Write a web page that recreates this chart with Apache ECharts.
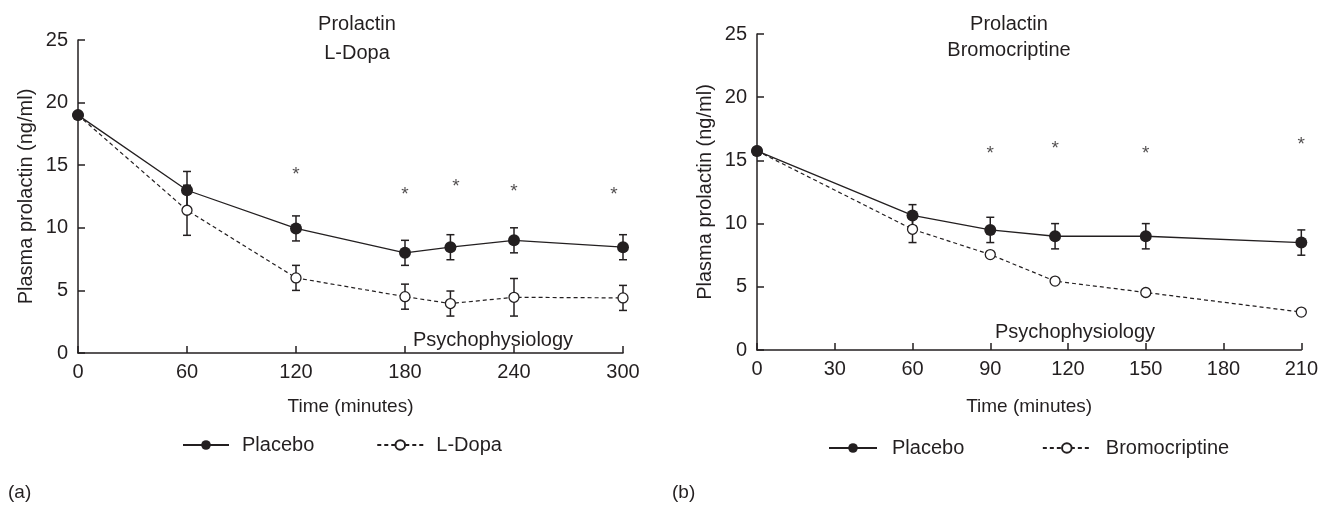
<!DOCTYPE html>
<html>
<head>
<meta charset="utf-8">
<script src="https://cdn.jsdelivr.net/npm/echarts@6/dist/echarts.min.js"></script>
<style>
html,body{margin:0;padding:0;background:#fff;}
#chart{width:1321px;height:506px;}
</style>
</head>
<body>
<div id="chart"></div>
<script>
// ---- Panel (a): L-Dopa ----
const ldopaTime = [0, 60, 120, 180, 205, 240, 300];
const ldopaPlacebo = [19.0, 13.0, 9.95, 8.0, 8.45, 9.0, 8.45];
const ldopaPlaceboErr = [0, 1.5, 1.0, 1.0, 1.0, 1.0, 1.0];
const ldopaDrug = [19.0, 11.4, 6.0, 4.5, 3.95, 4.45, 4.4];
const ldopaDrugErr = [0, 2.0, 1.0, 1.0, 1.0, 1.5, 1.0];
const ldopaStarTime = [120, 180, 208, 240, 295];
const ldopaStarY = [14.6, 13.0, 13.7, 13.3, 13.0];
const ldopaXTicks = [0, 60, 120, 180, 240, 300];

// ---- Panel (b): Bromocriptine ----
const bromoTime = [0, 60, 90, 115, 150, 210];
const bromoPlacebo = [15.75, 10.65, 9.5, 9.0, 9.0, 8.5];
const bromoPlaceboErr = [0, 0.85, 1.0, 1.0, 1.0, 1.0];
const bromoDrug = [15.75, 9.55, 7.55, 5.45, 4.55, 3.0];
const bromoDrugErr = [0, 1.05, 0, 0, 0, 0];
const bromoStarTime = [90, 115, 150, 210];
const bromoStarY = [15.9, 16.3, 15.9, 16.6];
const bromoXTicks = [0, 30, 60, 90, 120, 150, 180, 210];

const yTicks = [0, 5, 10, 15, 20, 25];

const FONT = '"Liberation Sans", Arial, sans-serif';
const INK = '#231f20';

function pairs(xs, ys) { return xs.map((x, i) => [x, ys[i]]); }
function errs(xs, ys, es) {
  const out = [];
  xs.forEach((x, i) => { if (es[i] > 0) out.push([x, ys[i] - es[i], ys[i] + es[i]]); });
  return out;
}

function errorSeries(idx, data) {
  return {
    type: 'custom', xAxisIndex: idx, yAxisIndex: idx, z: 1, silent: true,
    data: data,
    renderItem: function (params, api) {
      const x = api.value(0);
      const lo = api.coord([x, api.value(1)]);
      const hi = api.coord([x, api.value(2)]);
      const w = 4;
      const st = { stroke: INK, lineWidth: 1.5 };
      return {
        type: 'group', children: [
          { type: 'line', shape: { x1: lo[0], y1: lo[1], x2: hi[0], y2: hi[1] }, style: st },
          { type: 'line', shape: { x1: lo[0] - w, y1: lo[1], x2: lo[0] + w, y2: lo[1] }, style: st },
          { type: 'line', shape: { x1: hi[0] - w, y1: hi[1], x2: hi[0] + w, y2: hi[1] }, style: st }
        ]
      };
    }
  };
}

function starSeries(idx, xs, ys) {
  return {
    type: 'scatter', xAxisIndex: idx, yAxisIndex: idx, symbolSize: 0, silent: true,
    data: pairs(xs, ys),
    label: { show: true, position: 'inside', formatter: '*', fontSize: 19, color: INK, fontFamily: FONT, offset: [0, 5] }
  };
}

function lineSeries(idx, name, xs, ys, filled) {
  return {
    type: 'line', name: name, xAxisIndex: idx, yAxisIndex: idx,
    data: pairs(xs, ys), z: filled ? 4 : 3,
    symbol: 'circle', symbolSize: filled ? 12 : 10,
    itemStyle: filled ? { color: INK, borderWidth: 0 } : { color: '#fff', borderColor: INK, borderWidth: 1.3 },
    lineStyle: filled ? { color: INK, width: 1.3, type: 'solid' } : { color: INK, width: 1.2, type: [4, 3] },
    emphasis: { disabled: true }, animation: false
  };
}

function xAxis(idx, max, interval) {
  return {
    type: 'value', gridIndex: idx, min: 0, max: max, interval: interval,
    name: 'Time (minutes)', nameLocation: 'middle', nameGap: idx === 0 ? 44 : 47,
    nameTextStyle: { fontSize: 19, color: INK, fontFamily: FONT },
    axisLine: { show: true, lineStyle: { color: INK, width: 1.5 } },
    axisTick: { show: true, inside: true, length: 7, lineStyle: { color: INK, width: 1.5 } },
    axisLabel: { fontSize: 20, color: INK, fontFamily: FONT, margin: 9 },
    splitLine: { show: false }
  };
}
function yAxis(idx) {
  return {
    type: 'value', gridIndex: idx, min: 0, max: 25, interval: 5,
    name: 'Plasma prolactin (ng/ml)', nameLocation: 'middle', nameGap: 42,
    nameTextStyle: { fontSize: 20, color: INK, fontFamily: FONT },
    axisLine: { show: true, lineStyle: { color: INK, width: 1.5 } },
    axisTick: { show: true, inside: true, length: 7, lineStyle: { color: INK, width: 1.5 } },
    axisLabel: { fontSize: 20, color: INK, fontFamily: FONT, margin: 10 },
    splitLine: { show: false }
  };
}

const chart = echarts.init(document.getElementById('chart'), null, { renderer: 'canvas' });
chart.setOption({
  backgroundColor: '#fff',
  animation: false,
  textStyle: { fontFamily: FONT },
  title: [
    { text: 'Prolactin\nL-Dopa', left: 352, top: 5, textAlign: 'center',
      textStyle: { fontSize: 20, fontWeight: 'normal', color: INK, fontFamily: FONT, lineHeight: 29 } },
    { text: 'Prolactin\nBromocriptine', left: 1004, top: 6, textAlign: 'center',
      textStyle: { fontSize: 20, fontWeight: 'normal', color: INK, fontFamily: FONT, lineHeight: 26 } }
  ],
  legend: [
    { data: ['Placebo', 'L-Dopa'], left: 177, top: 430, itemWidth: 46, itemHeight: 12, itemGap: 62,
      textStyle: { fontSize: 20, color: INK, fontFamily: FONT, padding: [0, 0, 0, 8] }, selectedMode: false },
    { data: ['Placebo ', 'Bromocriptine'], left: 823, top: 433, itemWidth: 48, itemHeight: 12, itemGap: 72,
      textStyle: { fontSize: 20, color: INK, fontFamily: FONT, padding: [0, 0, 0, 10] }, selectedMode: false }
  ],
  grid: [
    { left: 78, top: 40, width: 545, height: 313 },
    { left: 757, top: 34, width: 545, height: 316 }
  ],
  xAxis: [xAxis(0, 300, 60), xAxis(1, 210, 30)],
  yAxis: [yAxis(0), yAxis(1)],
  graphic: [
    { type: 'text', left: 413, top: 330, style: { text: 'Psychophysiology', fontSize: 20, fill: INK, fontFamily: FONT } },
    { type: 'text', left: 995, top: 322, style: { text: 'Psychophysiology', fontSize: 20, fill: INK, fontFamily: FONT } },
    { type: 'text', left: 8, top: 483, style: { text: '(a)', fontSize: 19, fill: INK, fontFamily: FONT } },
    { type: 'text', left: 672, top: 483, style: { text: '(b)', fontSize: 19, fill: INK, fontFamily: FONT } }
  ],
  series: [
    errorSeries(0, errs(ldopaTime, ldopaPlacebo, ldopaPlaceboErr)),
    errorSeries(0, errs(ldopaTime, ldopaDrug, ldopaDrugErr)),
    lineSeries(0, 'L-Dopa', ldopaTime, ldopaDrug, false),
    lineSeries(0, 'Placebo', ldopaTime, ldopaPlacebo, true),
    starSeries(0, ldopaStarTime, ldopaStarY),
    errorSeries(1, errs(bromoTime, bromoPlacebo, bromoPlaceboErr)),
    errorSeries(1, errs(bromoTime, bromoDrug, bromoDrugErr)),
    lineSeries(1, 'Bromocriptine', bromoTime, bromoDrug, false),
    lineSeries(1, 'Placebo ', bromoTime, bromoPlacebo, true),
    starSeries(1, bromoStarTime, bromoStarY)
  ]
});
</script>
</body>
</html>
